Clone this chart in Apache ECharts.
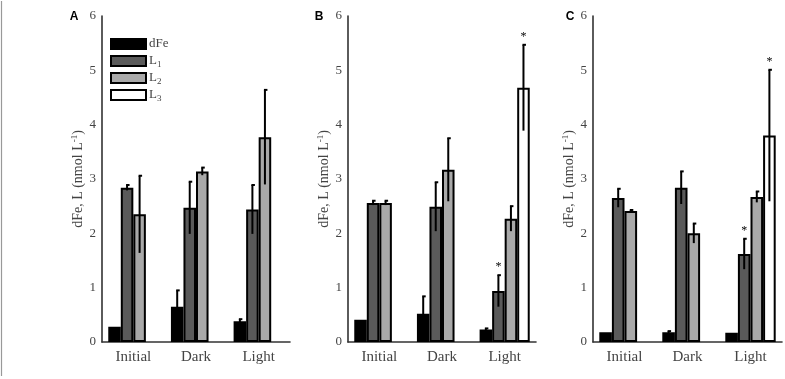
<!DOCTYPE html>
<html>
<head>
<meta charset="utf-8">
<script src="https://cdn.jsdelivr.net/npm/echarts@6/dist/echarts.min.js"></script>
<style>html,body{margin:0;padding:0;background:#fff}#c{width:785px;height:379px}</style>
</head>
<body>
<div id="c"></div>
<script>
// ---- data ----
var categories = ['Initial', 'Dark', 'Light'];
var seriesNames = ['dFe', 'L1', 'L2', 'L3'];
var yTicks = [0, 1, 2, 3, 4, 5, 6];

// Panel A
var A_dFe = [0.28, 0.65, 0.38], A_dFe_err = [0, 0.30, 0.04];
var A_L1 = [2.84, 2.47, 2.44], A_L1_err = [0.05, 0.48, 0.45];
var A_L2 = [2.35, 3.14, 3.77], A_L2_err = [0.71, 0.07, 0.87];
var A_L3 = [null, null, null], A_L3_err = [null, null, null];
var A_stars = [];

// Panel B
var B_dFe = [0.41, 0.52, 0.23], B_dFe_err = [0, 0.32, 0.02];
var B_L1 = [2.56, 2.49, 0.94], B_L1_err = [0.04, 0.45, 0.29];
var B_L2 = [2.56, 3.17, 2.27], B_L2_err = [0.04, 0.58, 0.23];
var B_L3 = [null, null, 4.68], B_L3_err = [null, null, 0.79];
var B_stars = [['Light', 'L1'], ['Light', 'L3']];

// Panel C
var C_dFe = [0.18, 0.18, 0.17], C_dFe_err = [0, 0.02, 0];
var C_L1 = [2.65, 2.84, 1.62], C_L1_err = [0.17, 0.30, 0.28];
var C_L2 = [2.41, 2.00, 2.67], C_L2_err = [0.02, 0.18, 0.10];
var C_L3 = [null, null, 3.80], C_L3_err = [null, null, 1.21];
var C_stars = [['Light', 'L1'], ['Light', 'L3']];

// ---- build ----
var panels = [
  {label: 'A', vals: [A_dFe, A_L1, A_L2, A_L3], errs: [A_dFe_err, A_L1_err, A_L2_err, A_L3_err], stars: A_stars},
  {label: 'B', vals: [B_dFe, B_L1, B_L2, B_L3], errs: [B_dFe_err, B_L1_err, B_L2_err, B_L3_err], stars: B_stars},
  {label: 'C', vals: [C_dFe, C_L1, C_L2, C_L3], errs: [C_dFe_err, C_L1_err, C_L2_err, C_L3_err], stars: C_stars}
];
var fills = ['#000000', '#5a5a5a', '#a9a9a9', '#ffffff'];
var gridLayout = [
  {left: 102, top: 16, width: 188, height: 326},
  {left: 348, top: 16, width: 188, height: 326},
  {left: 593, top: 16, width: 189, height: 326}
];
var labelPos = [[74, 17], [319, 17], [570, 17]];
var SERIF = 'Liberation Serif';
var TXT = '#444444';
var AX = '#333333';
var CAT_GAP = 0.2, NB = 4;

function barCenter(api, cat, val, i) {
  var band = api.size([1, 0])[0];
  var bw = band * (1 - CAT_GAP) / NB;
  return api.coord([cat, val])[0] - band * (1 - CAT_GAP) / 2 + (i + 0.5) * bw;
}

var grids = [], xAxes = [], yAxes = [], series = [];
var graphics = [{type: 'line', shape: {x1: 1.5, y1: 1, x2: 1.5, y2: 376}, style: {stroke: '#999', lineWidth: 1.2}}];
panels.forEach(function (p, k) {
  grids.push(gridLayout[k]);
  xAxes.push({
    type: 'category', gridIndex: k, data: categories,
    axisTick: {show: false},
    axisLine: {lineStyle: {color: AX, width: 1.6}},
    axisLabel: {margin: 8, fontFamily: SERIF, fontSize: 15, color: TXT}
  });
  yAxes.push({
    type: 'value', gridIndex: k, min: yTicks[0], max: yTicks[yTicks.length - 1], interval: 1,
    axisTick: {show: false}, splitLine: {show: false},
    axisLine: {show: true, lineStyle: {color: AX, width: 1.6}},
    axisLabel: {margin: 6, fontFamily: SERIF, fontSize: 13, color: TXT},
    name: 'dFe, L (nmol L{sup|-1})', nameLocation: 'middle', nameGap: 13, nameRotate: 90,
    nameTextStyle: {fontFamily: SERIF, fontSize: 14, color: TXT,
      rich: {sup: {fontFamily: SERIF, fontSize: 9, color: TXT, verticalAlign: 'top', padding: [0, 0, 7, 0]}}}
  });
  seriesNames.forEach(function (nm, i) {
    series.push({
      type: 'bar', name: nm, xAxisIndex: k, yAxisIndex: k,
      data: p.vals[i], barGap: '0%', barCategoryGap: (CAT_GAP * 100) + '%',
      itemStyle: {color: fills[i], borderColor: '#000', borderWidth: 2},
      emphasis: {disabled: true}, silent: true
    });
  });
  seriesNames.forEach(function (nm, i) {
    var d = [];
    p.vals[i].forEach(function (v, c) {
      var e = p.errs[i][c];
      if (v != null && e) d.push([c, v, e]);
    });
    series.push({
      type: 'custom', xAxisIndex: k, yAxisIndex: k, z: 5, silent: true, data: d,
      renderItem: function (params, api) {
        var c = api.value(0), v = api.value(1), e = api.value(2);
        var cx = barCenter(api, c, v, i);
        var yt = api.coord([c, v + e])[1], yb = api.coord([c, v - e])[1];
        var st = {stroke: '#000', lineWidth: 2};
        return {type: 'group', children: [
          {type: 'line', shape: {x1: cx, y1: yt, x2: cx, y2: yb}, style: st},
          {type: 'line', shape: {x1: cx - 1, y1: yt, x2: cx + 2.5, y2: yt}, style: st}
        ]};
      }
    });
  });
  var sd = p.stars.map(function (s) {
    var c = categories.indexOf(s[0]), i = seriesNames.indexOf(s[1]);
    return [c, p.vals[i][c] + (p.errs[i][c] || 0), i];
  });
  series.push({
    type: 'custom', xAxisIndex: k, yAxisIndex: k, z: 6, silent: true, data: sd,
    renderItem: function (params, api) {
      var c = api.value(0), v = api.value(1), i = api.value(2);
      var cx = barCenter(api, c, v, i);
      var y = api.coord([c, v])[1];
      return {type: 'text', x: cx, y: y - 2, style: {text: '*', font: '12px ' + SERIF, fill: '#000', align: 'center', verticalAlign: 'bottom'}};
    }
  });
  graphics.push({type: 'text', x: labelPos[k][0], y: labelPos[k][1],
    style: {text: p.label, font: 'bold 12px "Liberation Sans"', fill: '#000', align: 'center', verticalAlign: 'middle'}});
});

var chart = echarts.init(document.getElementById('c'), null, {renderer: 'canvas'});
chart.setOption({
  animation: false,
  grid: grids, xAxis: xAxes, yAxis: yAxes, series: series, graphic: graphics,
  legend: {
    data: seriesNames, orient: 'vertical', left: 105, top: 31,
    itemWidth: 35, itemHeight: 10, itemGap: 1, icon: 'rect', selectedMode: false,
    formatter: function (n) { return n === 'dFe' ? 'dFe' : 'L{sub|' + n.slice(1) + '}'; },
    textStyle: {fontFamily: SERIF, fontSize: 13, color: TXT, lineHeight: 16, padding: [0, 0, 0, -2],
      rich: {sub: {fontFamily: SERIF, fontSize: 9, color: TXT, verticalAlign: 'bottom', padding: [7, 0, 0, 0]}}}
  }
});
</script>
</body>
</html>
